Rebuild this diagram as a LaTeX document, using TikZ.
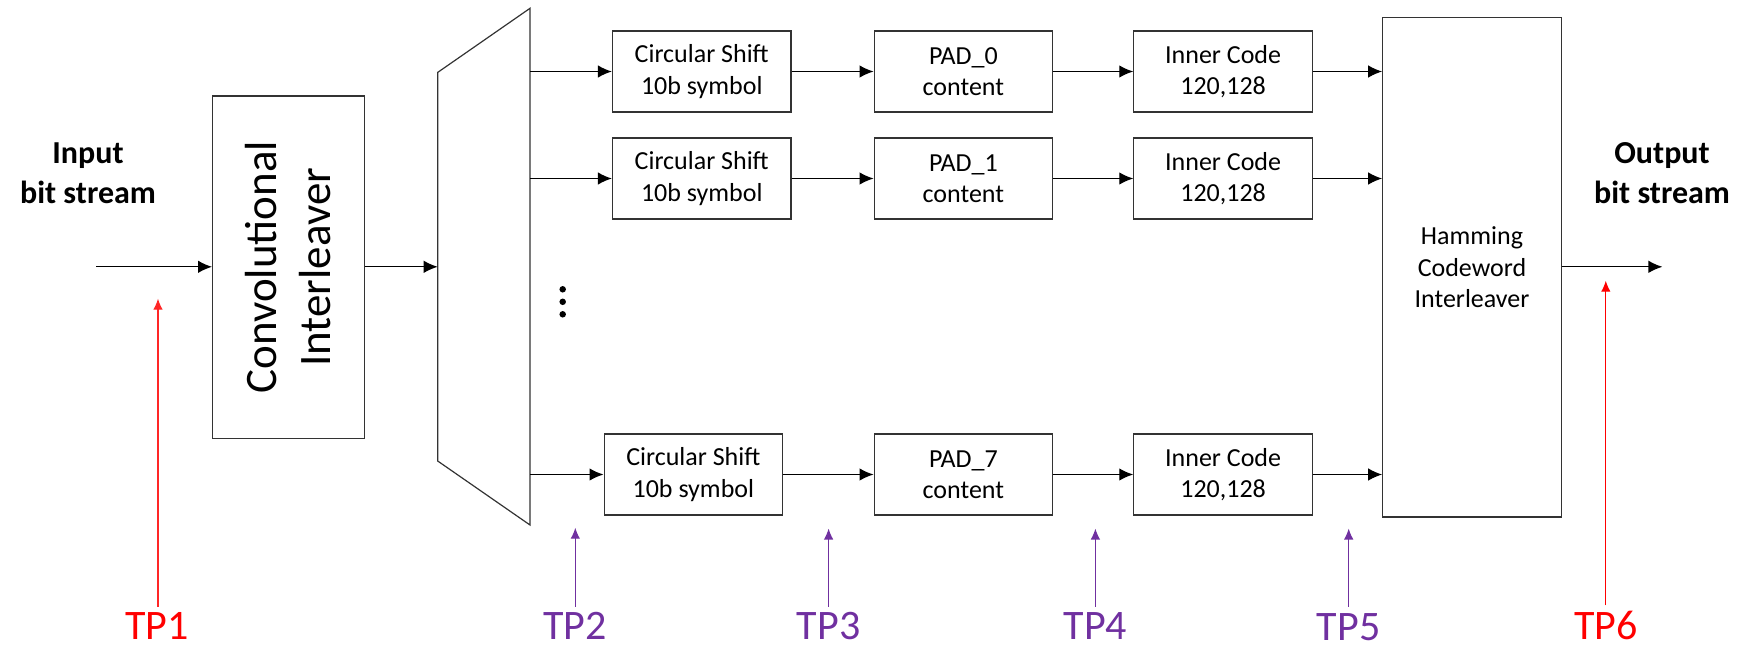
\documentclass[tikz,border=0pt]{standalone}
\usepackage{fontspec}
\setmainfont{Carlito}
\usetikzlibrary{arrows.meta}
\definecolor{tppurple}{RGB}{112,48,160}
\definecolor{tpred}{RGB}{255,0,0}
\tikzset{
  blk/.style={draw=black!80, line width=1.2pt, minimum width=178.5pt, minimum height=81pt,
    inner sep=0pt, align=center, font=\fontsize{26}{31.5}\selectfont},
  flow/.style={draw=black, line width=1.3pt, -{Latex[length=14pt,width=12.5pt]}},
  tplabel/.style={inner sep=0pt, anchor=base, font=\fontsize{42}{48}\selectfont},
  tparrow/.style={line width=1.2pt, -{Latex[length=11pt,width=9.5pt]}, shorten <=5pt},
  iolabel/.style={align=center, font=\fontsize{32}{40.5}\selectfont\bfseries},
  dot/.style={circle, fill=black, minimum size=6.5pt, inner sep=0pt},
}
\begin{document}
\begin{tikzpicture}[x=1pt,y=-1pt]
\useasboundingbox (0,0) rectangle (1740,648);

% Input / output labels
\node[iolabel] (inlab) at (88,173) {Input\\bit stream};
\node[iolabel] (outlab) at (1662,173) {Output\\bit stream};

% Convolutional interleaver
\node[draw=black!80, line width=1.2pt, minimum width=151.7pt, minimum height=342.4pt, inner sep=0pt] (conv) at (288.5,267.2) {};
\node[rotate=90, align=center, font=\fontsize{45}{54}\selectfont] (convtxt) at (conv.center) {Convolutional\\Interleaver};

% Demux (trapezoid)
\coordinate (mA) at (437.7,72.4);
\coordinate (mB) at (530,8.3);
\coordinate (mC) at (530,525);
\coordinate (mD) at (437.7,461);
\draw[black!80, line width=1.2pt] (mA) -- (mB) -- (mC) -- (mD) -- cycle;
\coordinate (mux) at (437.7,266.8);
\coordinate (mo1) at (530,71.5);
\coordinate (mo2) at (530,178.5);
\coordinate (mo3) at (530,474.5);

% Row blocks
\node[blk] (cs1) at (701.75,71.5) {Circular Shift\\10b symbol};
\node[blk] (cs2) at (701.75,178.5) {Circular Shift\\10b symbol};
\node[blk] (cs3) at (693.35,474.5) {Circular Shift\\10b symbol};
\node[blk] (pad0) at (963.4,71.5) {PAD\_0\\content};
\node[blk] (pad1) at (963.4,178.5) {PAD\_1\\content};
\node[blk] (pad7) at (963.4,474.5) {PAD\_7\\content};
\node[blk] (ic1) at (1223.1,71.5) {Inner Code\\120,128};
\node[blk] (ic2) at (1223.1,178.5) {Inner Code\\120,128};
\node[blk] (ic3) at (1223.1,474.5) {Inner Code\\120,128};

% Hamming interleaver
\node[blk, minimum height=499.6pt] (ham) at (1472,267.2) {Hamming\\Codeword\\Interleaver};

% Dots
\node[dot] (d1) at (562.7,289.3) {};
\node[dot] (d2) at (562.7,301.8) {};
\node[dot] (d3) at (562.7,314.3) {};

% Main flow
\coordinate (instart) at (96,266.8);
\coordinate (outend) at (1662.4,266.8);
\draw[flow] (instart) -- (conv.west |- instart);
\draw[flow] (conv.east |- mux) -- (mux);
\draw[flow] (mo1) -- (cs1.west);
\draw[flow] (mo2) -- (cs2.west);
\draw[flow] (mo3) -- (cs3.west);
\draw[flow] (cs1) -- (pad0);
\draw[flow] (cs2) -- (pad1);
\draw[flow] (cs3) -- (pad7);
\draw[flow] (pad0) -- (ic1);
\draw[flow] (pad1) -- (ic2);
\draw[flow] (pad7) -- (ic3);
\draw[flow] (ic1.east) -- (ham.west |- ic1.east);
\draw[flow] (ic2.east) -- (ham.west |- ic2.east);
\draw[flow] (ic3.east) -- (ham.west |- ic3.east);
\draw[flow] (ham.east |- outend) -- (outend);

% Test points
\node[tplabel, text=tpred] (tp1) at (157,639) {TP1};
\node[tplabel, text=tppurple] (tp2) at (574.8,639) {TP2};
\node[tplabel, text=tppurple] (tp3) at (828.6,639) {TP3};
\node[tplabel, text=tppurple] (tp4) at (1095.4,639) {TP4};
\node[tplabel, text=tppurple] (tp5) at (1348.7,640) {TP5};
\node[tplabel, text=tpred] (tp6) at (1605.8,639) {TP6};

\coordinate (t1) at (158,298.6);
\coordinate (t2) at (575.3,527.7);
\coordinate (t3) at (828.6,528.5);
\coordinate (t4) at (1095.4,528.5);
\coordinate (t5) at (1348.7,528.5);
\coordinate (t6) at (1605.8,280.7);

\draw[tparrow, tpred!85] (tp1.north -| t1) -- (t1);
\draw[tparrow, tppurple] (tp2.north -| t2) -- (t2);
\draw[tparrow, tppurple] (tp3.north -| t3) -- (t3);
\draw[tparrow, tppurple] (tp4.north -| t4) -- (t4);
\draw[tparrow, tppurple, shorten <=6pt] (tp5.north -| t5) -- (t5);
\draw[tparrow, tpred] (tp6.north -| t6) -- (t6);
\end{tikzpicture}
\end{document}
